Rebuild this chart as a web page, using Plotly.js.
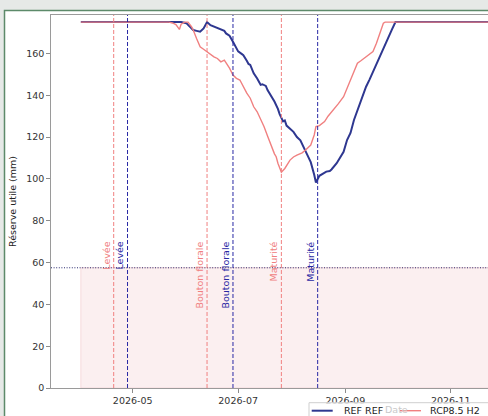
<!DOCTYPE html>
<html><head><meta charset="utf-8">
<script src="https://cdn.plot.ly/plotly-3.0.1.min.js"></script>
<style>html,body{margin:0;padding:0;background:#e6e9e7;overflow:hidden}#chart{width:488px;height:416px}</style>
</head><body><div id="chart"></div><script>
// ---- data ----
const refDates = ['2026-04-01','2026-05-29','2026-06-01','2026-06-03','2026-06-05','2026-06-07','2026-06-09','2026-06-11','2026-06-13','2026-06-15','2026-06-17','2026-06-19','2026-06-21','2026-06-23','2026-06-24','2026-06-26','2026-06-28','2026-06-30','2026-07-01','2026-07-03','2026-07-04','2026-07-06','2026-07-07','2026-07-08','2026-07-10','2026-07-12','2026-07-14','2026-07-15','2026-07-17','2026-07-18','2026-07-20','2026-07-22','2026-07-24','2026-07-25','2026-07-27','2026-07-28','2026-07-29','2026-07-31','2026-08-02','2026-08-04','2026-08-06','2026-08-08','2026-08-10','2026-08-12','2026-08-14','2026-08-15','2026-08-17','2026-08-19','2026-08-21','2026-08-23','2026-08-24','2026-08-27','2026-08-29','2026-08-31','2026-09-02','2026-09-04','2026-09-06','2026-09-08','2026-09-10','2026-09-13','2026-09-15','2026-09-17','2026-09-19','2026-09-21','2026-09-23','2026-09-25','2026-09-28','2026-09-30','2026-12-31'];
const refValues = [175,175,174.5,173,171.2,170.8,170.4,172,175,173.5,172.8,172,171.2,170.8,169.6,168.5,165.6,162,161,159.8,159.2,156.5,155,154.5,150.5,148,145,145.3,144.5,142.5,140,137,133.5,131,127.5,128,125.5,124.2,122.5,120,118.5,115,111.5,108,102,98.3,101.5,102.5,103.5,103.8,104.5,107.5,110.6,113,118.6,122,128.2,133,137.7,144.1,147.5,151.3,155,158.4,162.5,166.4,171.5,175,175];

const rcpDates = ['2026-04-01','2026-05-22','2026-05-24','2026-05-26','2026-05-28','2026-05-29','2026-05-31','2026-06-02','2026-06-04','2026-06-05','2026-06-07','2026-06-09','2026-06-11','2026-06-13','2026-06-15','2026-06-17','2026-06-19','2026-06-21','2026-06-23','2026-06-24','2026-06-26','2026-06-28','2026-06-30','2026-07-02','2026-07-04','2026-07-06','2026-07-08','2026-07-10','2026-07-12','2026-07-14','2026-07-16','2026-07-18','2026-07-20','2026-07-22','2026-07-23','2026-07-24','2026-07-26','2026-07-28','2026-07-31','2026-08-02','2026-08-04','2026-08-07','2026-08-09','2026-08-12','2026-08-14','2026-08-15','2026-08-17','2026-08-20','2026-08-22','2026-08-25','2026-08-28','2026-08-31','2026-09-02','2026-09-04','2026-09-06','2026-09-08','2026-09-10','2026-09-13','2026-09-15','2026-09-17','2026-09-19','2026-09-21','2026-09-23','2026-09-24','2026-12-31'];
const rcpValues = [175,175,174.6,173.8,171.5,174,175,175,172.8,171.2,167,163.2,162,160.8,159.5,158.4,157.6,156,156.8,155.5,153,149.7,148.1,147.3,144.1,141,138.6,134.5,132.1,128.5,125,120.5,116,112,110.6,107.5,103.2,105,109,110.5,111.4,112.5,113.8,116.2,121,125,125.5,127.4,130,132.9,136,139.3,143.5,147.3,151.5,155.3,156.5,158.4,159.5,160.9,164.9,170,174.5,175,175];

const seriesNames = ['REF REF','RCP8.5 H2'];
const phaseNames = ['Levée','Bouton florale','Maturité'];
const refPhaseDates = ['2026-04-28','2026-06-28','2026-08-16'];
const rcpPhaseDates = ['2026-04-20','2026-06-13','2026-07-26'];
const threshold = 57.5;
const shadeStart = '2026-04-01';
const xTickVals = ['2026-05-01','2026-07-01','2026-09-01','2026-11-01'];
const xTickText = ['2026-05','2026-07','2026-09','2026-11'];
const yTickVals = [0,20,40,60,80,100,120,140,160];
const xRange = ['2026-03-14 17:30','2026-11-22 13:00'];
const yRange = [0,178.4];

// ---- style ----
const BLUE = '#2e3790', PINK = '#f08080', BLUE_V = '#2828a4';
const FONT = 'DejaVu Sans';

const traces = [
  {x: refDates, y: refValues, name: seriesNames[0], type:'scatter', mode:'lines', line:{color:BLUE,width:2}},
  {x: rcpDates, y: rcpValues, name: seriesNames[1], type:'scatter', mode:'lines', line:{color:PINK,width:1.4}}
];

// pixel -> paper helpers (plot area 51..488 x 15..388)
const L=51, R=488, T=15, B=388;
const px = v => (v - L)/(R - L);
const py = v => (B - v)/(B - T);

const shapes = [
  {type:'rect', xref:'paper', yref:'paper', x0:px(4.5), x1:1.3, y0:-0.3, y1:py(10.5), fillcolor:'#ffffff', line:{color:'#5d8a6a',width:1.5}, layer:'below'},
  {type:'rect', xref:'x', yref:'y', x0:shadeStart, x1:'2026-12-31', y0:0, y1:threshold, fillcolor:'#fbeff0', line:{color:'#f4d3d6',width:0.8}, layer:'below'},
  {type:'line', xref:'paper', yref:'y', x0:0, x1:1, y0:threshold, y1:threshold, line:{color:'#2a2a6e',width:1,dash:'1px,1.6px'}, layer:'above'}
];
phaseNames.forEach((n,i)=>{
  shapes.push({type:'line', xref:'x', yref:'paper', x0:rcpPhaseDates[i], x1:rcpPhaseDates[i], y0:0, y1:1, line:{color:PINK,width:1,dash:'4px,2px'}});
  shapes.push({type:'line', xref:'x', yref:'paper', x0:refPhaseDates[i], x1:refPhaseDates[i], y0:0, y1:1, line:{color:BLUE_V,width:1,dash:'4px,2px'}});
});
shapes.push({type:'rect', xref:'paper', yref:'paper', x0:px(309), x1:1.3, y0:-0.3, y1:py(402.7), fillcolor:'rgba(255,255,255,0.8)', line:{color:'#cfcfcf',width:1}, layer:'above'});
shapes.push({type:'line', xref:'paper', yref:'paper', x0:px(311.7), x1:px(332.7), y0:py(410.7), y1:py(410.7), line:{color:BLUE,width:2}, layer:'above'});
shapes.push({type:'line', xref:'paper', yref:'paper', x0:px(400), x1:px(421), y0:py(410.7), y1:py(410.7), line:{color:PINK,width:1.4}, layer:'above'});

const annotations = [];
phaseNames.forEach((n,i)=>{
  annotations.push({x:rcpPhaseDates[i], y:71, xref:'x', yref:'y', text:n, textangle:-90, showarrow:false, xanchor:'right', yanchor:'top', font:{family:FONT,size:9.5,color:PINK}});
  annotations.push({x:refPhaseDates[i], y:71, xref:'x', yref:'y', text:n, textangle:-90, showarrow:false, xanchor:'right', yanchor:'top', font:{family:FONT,size:9.5,color:BLUE_V}});
});
annotations.push({x:px(396), y:py(409.5), xref:'paper', yref:'paper', text:'Date', showarrow:false, xanchor:'center', yanchor:'middle', font:{family:FONT,size:9.5,color:'#c9c9c9'}});
annotations.push({x:px(341.5), y:py(410.7), xref:'paper', yref:'paper', text:seriesNames[0], showarrow:false, xanchor:'left', yanchor:'middle', font:{family:FONT,size:9.5,color:'#222'}});
annotations.push({x:px(427.5), y:py(410.7), xref:'paper', yref:'paper', text:seriesNames[1], showarrow:false, xanchor:'left', yanchor:'middle', font:{family:FONT,size:9.5,color:'#222'}});

const layout = {
  width:488, height:416,
  margin:{l:L, r:0, t:T, b:416-B, pad:0},
  paper_bgcolor:'#e6e9e7', plot_bgcolor:'rgba(0,0,0,0)',
  showlegend:false,
  font:{family:FONT, size:9.5, color:'#333'},
  xaxis:{type:'date', range:xRange, tickvals:xTickVals, ticktext:xTickText, ticks:'outside', ticklen:3.5, tickwidth:1, tickcolor:'#8c8c8c', showline:true, linecolor:'#9a9a9a', linewidth:1.2, mirror:true, showgrid:false, zeroline:false, tickfont:{family:FONT,size:9.5,color:'#333'}, automargin:false},
  yaxis:{range:yRange, tickvals:yTickVals, ticks:'outside', ticklen:3.5, tickwidth:1, tickcolor:'#8c8c8c', showline:true, linecolor:'#9a9a9a', linewidth:1.2, showgrid:false, zeroline:false, tickfont:{family:FONT,size:9.5,color:'#333'}, automargin:false, title:{text:'Réserve utile (mm)', font:{family:FONT,size:9.5,color:'#222'}, standoff:8}},
  shapes:shapes, annotations:annotations
};
Plotly.newPlot('chart', traces, layout, {displayModeBar:false, staticPlot:true});
</script></body></html>
